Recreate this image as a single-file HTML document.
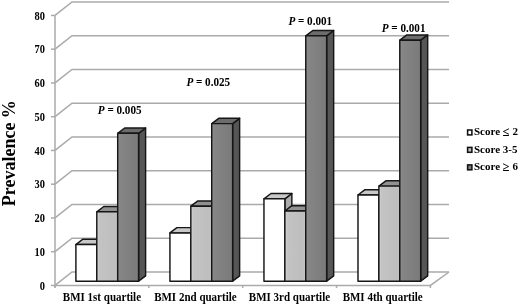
<!DOCTYPE html><html><head><meta charset="utf-8"><style>html,body{margin:0;padding:0;background:#fff;width:520px;height:304px;overflow:hidden}svg{display:block;filter:grayscale(1)}text{font-family:"Liberation Serif",serif;font-weight:bold;fill:#000}</style></head><body>
<svg width="520" height="304" viewBox="0 0 520 304">
<defs><linearGradient id="gl" x1="0" x2="1" y1="0" y2="0"><stop offset="0" stop-color="#d4d4d4"/><stop offset="0.14" stop-color="#c3c3c3"/><stop offset="0.85" stop-color="#bebebe"/><stop offset="1" stop-color="#c4c4c4"/></linearGradient><linearGradient id="gd" x1="0" x2="1" y1="0" y2="0"><stop offset="0" stop-color="#8c8c8c"/><stop offset="0.15" stop-color="#858585"/><stop offset="1" stop-color="#7a7a7a"/></linearGradient></defs>
<rect width="520" height="304" fill="#fff"/>
<polyline points="55,285.45 72,272.00 449,272.00" fill="none" stroke="#aaaaaa" stroke-width="1.5"/>
<line x1="51" y1="285.45" x2="55" y2="285.45" stroke="#aaaaaa" stroke-width="1.5"/>
<polyline points="55,251.70 72,238.25 449,238.25" fill="none" stroke="#aaaaaa" stroke-width="1.5"/>
<line x1="51" y1="251.70" x2="55" y2="251.70" stroke="#aaaaaa" stroke-width="1.5"/>
<polyline points="55,217.95 72,204.50 449,204.50" fill="none" stroke="#aaaaaa" stroke-width="1.5"/>
<line x1="51" y1="217.95" x2="55" y2="217.95" stroke="#aaaaaa" stroke-width="1.5"/>
<polyline points="55,184.20 72,170.75 449,170.75" fill="none" stroke="#aaaaaa" stroke-width="1.5"/>
<line x1="51" y1="184.20" x2="55" y2="184.20" stroke="#aaaaaa" stroke-width="1.5"/>
<polyline points="55,150.45 72,137.00 449,137.00" fill="none" stroke="#aaaaaa" stroke-width="1.5"/>
<line x1="51" y1="150.45" x2="55" y2="150.45" stroke="#aaaaaa" stroke-width="1.5"/>
<polyline points="55,116.70 72,103.25 449,103.25" fill="none" stroke="#aaaaaa" stroke-width="1.5"/>
<line x1="51" y1="116.70" x2="55" y2="116.70" stroke="#aaaaaa" stroke-width="1.5"/>
<polyline points="55,82.95 72,69.50 449,69.50" fill="none" stroke="#aaaaaa" stroke-width="1.5"/>
<line x1="51" y1="82.95" x2="55" y2="82.95" stroke="#aaaaaa" stroke-width="1.5"/>
<polyline points="55,49.20 72,35.75 449,35.75" fill="none" stroke="#aaaaaa" stroke-width="1.5"/>
<line x1="51" y1="49.20" x2="55" y2="49.20" stroke="#aaaaaa" stroke-width="1.5"/>
<polyline points="55,15.45 72,2.00 449,2.00" fill="none" stroke="#aaaaaa" stroke-width="1.5"/>
<line x1="51" y1="15.45" x2="55" y2="15.45" stroke="#aaaaaa" stroke-width="1.5"/>
<polyline points="55,285.45 430.4,285.45 449,272" fill="none" stroke="#aaaaaa" stroke-width="1.5"/>
<line x1="55" y1="15.449999999999989" x2="55" y2="287.45" stroke="#aaaaaa" stroke-width="1.5"/>
<line x1="55.00" y1="285.45" x2="55.00" y2="287.95" stroke="#aaaaaa" stroke-width="1.5"/>
<line x1="148.85" y1="285.45" x2="148.85" y2="287.95" stroke="#aaaaaa" stroke-width="1.5"/>
<line x1="242.70" y1="285.45" x2="242.70" y2="287.95" stroke="#aaaaaa" stroke-width="1.5"/>
<line x1="336.55" y1="285.45" x2="336.55" y2="287.95" stroke="#aaaaaa" stroke-width="1.5"/>
<line x1="430.40" y1="285.45" x2="430.40" y2="287.95" stroke="#aaaaaa" stroke-width="1.5"/>
<polygon points="96.80,244.50 103.80,239.20 103.80,275.90 96.80,281.20" fill="#acacac" stroke="#161616" stroke-width="1.45" stroke-linejoin="round"/>
<polygon points="75.90,244.50 82.90,239.20 103.80,239.20 96.80,244.50" fill="#c8c8c8" stroke="#161616" stroke-width="1.45" stroke-linejoin="round"/>
<rect x="75.90" y="244.50" width="20.90" height="36.70" fill="#ffffff" stroke="#161616" stroke-width="1.45" stroke-linejoin="round"/>
<polygon points="117.70,211.80 124.70,206.50 124.70,275.90 117.70,281.20" fill="#8a8a8a" stroke="#161616" stroke-width="1.45" stroke-linejoin="round"/>
<polygon points="96.80,211.80 103.80,206.50 124.70,206.50 117.70,211.80" fill="#919191" stroke="#161616" stroke-width="1.45" stroke-linejoin="round"/>
<rect x="96.80" y="211.80" width="20.90" height="69.40" fill="url(#gl)" stroke="#161616" stroke-width="1.45" stroke-linejoin="round"/>
<polygon points="138.60,133.30 145.60,128.00 145.60,275.90 138.60,281.20" fill="#565656" stroke="#161616" stroke-width="1.45" stroke-linejoin="round"/>
<polygon points="117.70,133.30 124.70,128.00 145.60,128.00 138.60,133.30" fill="#6c6c6c" stroke="#161616" stroke-width="1.45" stroke-linejoin="round"/>
<rect x="117.70" y="133.30" width="20.90" height="147.90" fill="url(#gd)" stroke="#161616" stroke-width="1.45" stroke-linejoin="round"/>
<polygon points="190.83,232.90 197.83,227.60 197.83,275.90 190.83,281.20" fill="#acacac" stroke="#161616" stroke-width="1.45" stroke-linejoin="round"/>
<polygon points="169.93,232.90 176.93,227.60 197.83,227.60 190.83,232.90" fill="#c8c8c8" stroke="#161616" stroke-width="1.45" stroke-linejoin="round"/>
<rect x="169.93" y="232.90" width="20.90" height="48.30" fill="#ffffff" stroke="#161616" stroke-width="1.45" stroke-linejoin="round"/>
<polygon points="211.73,206.20 218.73,200.90 218.73,275.90 211.73,281.20" fill="#8a8a8a" stroke="#161616" stroke-width="1.45" stroke-linejoin="round"/>
<polygon points="190.83,206.20 197.83,200.90 218.73,200.90 211.73,206.20" fill="#919191" stroke="#161616" stroke-width="1.45" stroke-linejoin="round"/>
<rect x="190.83" y="206.20" width="20.90" height="75.00" fill="url(#gl)" stroke="#161616" stroke-width="1.45" stroke-linejoin="round"/>
<polygon points="232.63,123.60 239.63,118.30 239.63,275.90 232.63,281.20" fill="#565656" stroke="#161616" stroke-width="1.45" stroke-linejoin="round"/>
<polygon points="211.73,123.60 218.73,118.30 239.63,118.30 232.63,123.60" fill="#6c6c6c" stroke="#161616" stroke-width="1.45" stroke-linejoin="round"/>
<rect x="211.73" y="123.60" width="20.90" height="157.60" fill="url(#gd)" stroke="#161616" stroke-width="1.45" stroke-linejoin="round"/>
<polygon points="284.86,198.80 291.86,193.50 291.86,275.90 284.86,281.20" fill="#acacac" stroke="#161616" stroke-width="1.45" stroke-linejoin="round"/>
<polygon points="263.96,198.80 270.96,193.50 291.86,193.50 284.86,198.80" fill="#c8c8c8" stroke="#161616" stroke-width="1.45" stroke-linejoin="round"/>
<rect x="263.96" y="198.80" width="20.90" height="82.40" fill="#ffffff" stroke="#161616" stroke-width="1.45" stroke-linejoin="round"/>
<polygon points="305.76,211.00 312.76,205.70 312.76,275.90 305.76,281.20" fill="#8a8a8a" stroke="#161616" stroke-width="1.45" stroke-linejoin="round"/>
<polygon points="284.86,211.00 291.86,205.70 312.76,205.70 305.76,211.00" fill="#919191" stroke="#161616" stroke-width="1.45" stroke-linejoin="round"/>
<rect x="284.86" y="211.00" width="20.90" height="70.20" fill="url(#gl)" stroke="#161616" stroke-width="1.45" stroke-linejoin="round"/>
<polygon points="326.66,35.80 333.66,30.50 333.66,275.90 326.66,281.20" fill="#565656" stroke="#161616" stroke-width="1.45" stroke-linejoin="round"/>
<polygon points="305.76,35.80 312.76,30.50 333.66,30.50 326.66,35.80" fill="#6c6c6c" stroke="#161616" stroke-width="1.45" stroke-linejoin="round"/>
<rect x="305.76" y="35.80" width="20.90" height="245.40" fill="url(#gd)" stroke="#161616" stroke-width="1.45" stroke-linejoin="round"/>
<polygon points="378.89,195.00 385.89,189.70 385.89,275.90 378.89,281.20" fill="#acacac" stroke="#161616" stroke-width="1.45" stroke-linejoin="round"/>
<polygon points="357.99,195.00 364.99,189.70 385.89,189.70 378.89,195.00" fill="#c8c8c8" stroke="#161616" stroke-width="1.45" stroke-linejoin="round"/>
<rect x="357.99" y="195.00" width="20.90" height="86.20" fill="#ffffff" stroke="#161616" stroke-width="1.45" stroke-linejoin="round"/>
<polygon points="399.79,186.10 406.79,180.80 406.79,275.90 399.79,281.20" fill="#8a8a8a" stroke="#161616" stroke-width="1.45" stroke-linejoin="round"/>
<polygon points="378.89,186.10 385.89,180.80 406.79,180.80 399.79,186.10" fill="#919191" stroke="#161616" stroke-width="1.45" stroke-linejoin="round"/>
<rect x="378.89" y="186.10" width="20.90" height="95.10" fill="url(#gl)" stroke="#161616" stroke-width="1.45" stroke-linejoin="round"/>
<polygon points="420.69,40.20 427.69,34.90 427.69,275.90 420.69,281.20" fill="#565656" stroke="#161616" stroke-width="1.45" stroke-linejoin="round"/>
<polygon points="399.79,40.20 406.79,34.90 427.69,34.90 420.69,40.20" fill="#6c6c6c" stroke="#161616" stroke-width="1.45" stroke-linejoin="round"/>
<rect x="399.79" y="40.20" width="20.90" height="241.00" fill="url(#gd)" stroke="#161616" stroke-width="1.45" stroke-linejoin="round"/>
<text transform="translate(45.00,289.55) scale(0.800,1)" font-size="13" text-anchor="end">0</text>
<text transform="translate(45.00,255.80) scale(0.800,1)" font-size="13" text-anchor="end">10</text>
<text transform="translate(45.00,222.05) scale(0.800,1)" font-size="13" text-anchor="end">20</text>
<text transform="translate(45.00,188.30) scale(0.800,1)" font-size="13" text-anchor="end">30</text>
<text transform="translate(45.00,154.55) scale(0.800,1)" font-size="13" text-anchor="end">40</text>
<text transform="translate(45.00,120.80) scale(0.800,1)" font-size="13" text-anchor="end">50</text>
<text transform="translate(45.00,87.05) scale(0.800,1)" font-size="13" text-anchor="end">60</text>
<text transform="translate(45.00,53.30) scale(0.800,1)" font-size="13" text-anchor="end">70</text>
<text transform="translate(45.00,19.55) scale(0.800,1)" font-size="13" text-anchor="end">80</text>
<text transform="translate(14.8,153.2) rotate(-90)" font-size="18" text-anchor="middle">Prevalence %</text>
<text transform="translate(101.95,300.60) scale(0.887,1)" font-size="12.4" text-anchor="middle">BMI 1st quartile</text>
<text transform="translate(195.40,300.60) scale(0.887,1)" font-size="12.4" text-anchor="middle">BMI 2nd quartile</text>
<text transform="translate(289.45,300.60) scale(0.887,1)" font-size="12.4" text-anchor="middle">BMI 3rd quartile</text>
<text transform="translate(382.65,300.60) scale(0.887,1)" font-size="12.4" text-anchor="middle">BMI 4th quartile</text>
<text transform="translate(119.65,113.90) scale(0.905,1)" font-size="12.3" text-anchor="middle"><tspan font-style="italic">P</tspan> = 0.005</text>
<text transform="translate(208.25,85.70) scale(0.905,1)" font-size="12.3" text-anchor="middle"><tspan font-style="italic">P</tspan> = 0.025</text>
<text transform="translate(310.25,24.50) scale(0.905,1)" font-size="12.3" text-anchor="middle"><tspan font-style="italic">P</tspan> = 0.001</text>
<text transform="translate(403.60,32.10) scale(0.905,1)" font-size="12.3" text-anchor="middle"><tspan font-style="italic">P</tspan> = 0.001</text>
<rect x="467.6" y="130.00" width="4.3" height="4.9" fill="#ffffff" stroke="#111" stroke-width="1.55"/>
<text x="474" y="135.20" font-size="11">Score <tspan font-size="12.6" dy="1.2">≤</tspan><tspan dy="-1.2"> 2</tspan></text>
<rect x="467.6" y="147.40" width="4.3" height="4.9" fill="#c0c0c0" stroke="#111" stroke-width="1.55"/>
<text x="474" y="152.60" font-size="11">Score 3-5</text>
<rect x="467.6" y="164.90" width="4.3" height="4.9" fill="#808080" stroke="#111" stroke-width="1.55"/>
<text x="474" y="170.10" font-size="11">Score <tspan font-size="12.6" dy="1.2">≥</tspan><tspan dy="-1.2"> 6</tspan></text>
</svg></body></html>
